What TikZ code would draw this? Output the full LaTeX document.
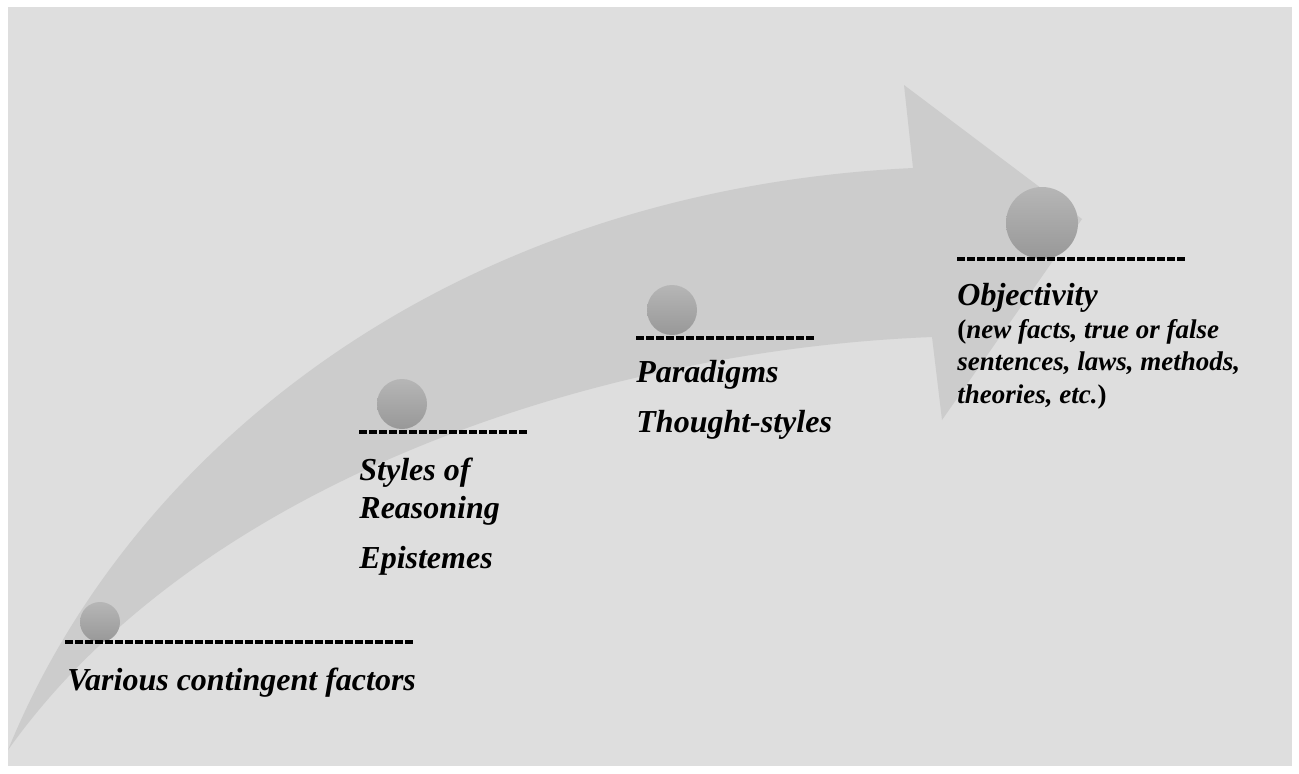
\documentclass[tikz,border=0pt]{standalone}
\usepackage{fontspec}
\setmainfont{Liberation Serif}
\definecolor{bgGray}{HTML}{DEDEDE}
\definecolor{arrowGray}{HTML}{CCCCCC}
\definecolor{ballTop}{HTML}{B6B6B6}
\definecolor{ballBot}{HTML}{989898}
\begin{document}
\begin{tikzpicture}[x=0.5pt,y=-0.5pt,
  lbl/.style={anchor=base west,inner sep=0pt,font=\fontsize{16}{19}\selectfont\bfseries\itshape},
  sub/.style={anchor=base west,inner sep=0pt,font=\fontsize{13.5}{16}\selectfont\bfseries\itshape},
  ball/.style={circle,inner sep=0pt,top color=ballTop,bottom color=ballBot,draw=none},
  rule/.style={line width=2.4pt,dash pattern=on 3.8pt off 1.2pt}]
\useasboundingbox (0,0) rectangle (1299,773);
\fill[bgGray] (8,7) rectangle (1292,766);
% big curved arrow
\fill[arrowGray] (8,750) .. controls (130,450) and (450,190) .. (913,168)
  -- (904,85) -- (1082,219) -- (942,420) -- (932,337)
  .. controls (600,350) and (200,480) .. (8,750) -- cycle;
% spheres
\node[ball,minimum size=20pt] (b1) at (100,622) {};
\node[ball,minimum size=25pt] (b2) at (402,404) {};
\node[ball,minimum size=25pt] (b3) at (672,310) {};
\node[ball,minimum size=36pt] (b4) at (1042,223) {};
% dashed rules
\coordinate (r1a) at (65,642);  \coordinate (r1b) at (412.6,642);
\coordinate (r2a) at (359,432); \coordinate (r2b) at (526.6,432);
\coordinate (r3a) at (636,338); \coordinate (r3b) at (813.6,338);
\coordinate (r4a) at (957,259); \coordinate (r4b) at (1184.6,259);
\draw[rule] (r1a) -- (r1b);
\draw[rule] (r2a) -- (r2b);
\draw[rule] (r3a) -- (r3b);
\draw[rule] (r4a) -- (r4b);
% labels
\node[lbl] (t1) at (67,690) {Various contingent factors};
\node[lbl] (t2a) at (359,480) {Styles of};
\node[lbl] (t2b) at (359,518) {Reasoning};
\node[lbl] (t2c) at (359,568) {Epistemes};
\node[lbl] (t3a) at (636,382) {Paradigms};
\node[lbl] (t3b) at (636,432) {Thought-styles};
\node[lbl] (t4a) at (957,305) {Objectivity};
\node[sub] (t4b) at (957,338) {\textup{(}new facts, true or false};
\node[sub] (t4c) at (957,370) {sentences, laws, methods,};
\node[sub] (t4d) at (957,403) {theories, etc.\textup{)}};
\end{tikzpicture}
\end{document}
